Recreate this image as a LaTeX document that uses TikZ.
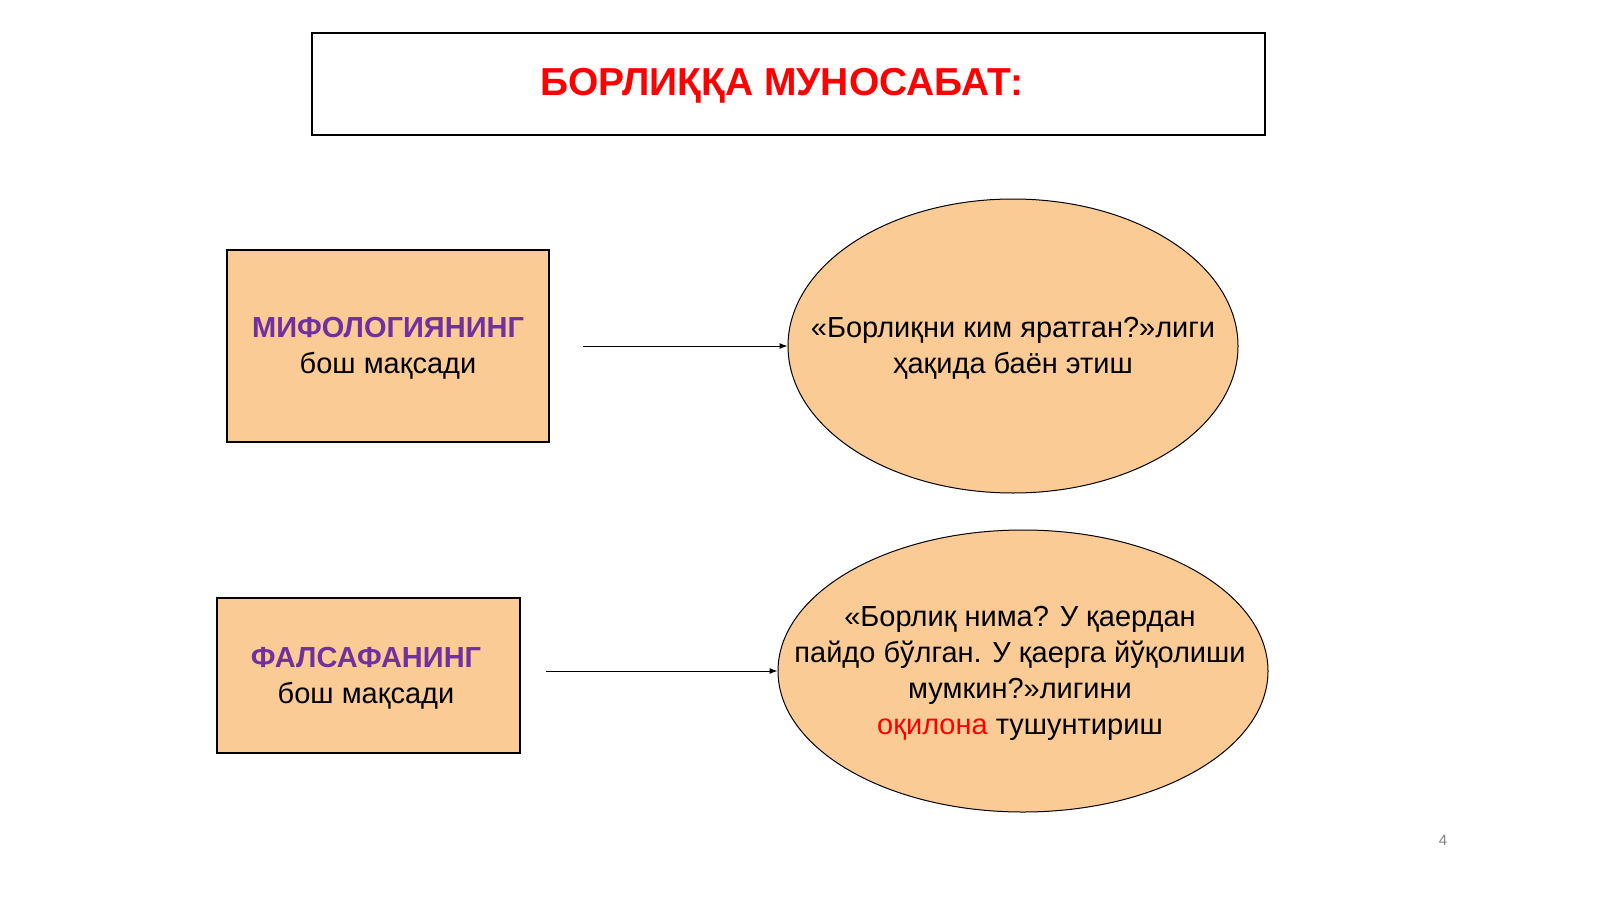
\documentclass[tikz,border=0pt]{standalone}
\usepackage{fontspec}
\setmainfont{Liberation Sans}
\usetikzlibrary{shapes.geometric,arrows.meta}
\definecolor{peach}{RGB}{251,203,150}
\definecolor{purp}{RGB}{112,48,160}
\begin{document}
\begin{tikzpicture}[x=1pt,y=-1pt,
  box/.style={draw=black,line width=1.1pt,fill=peach,inner sep=0},
  ell/.style={ellipse,draw=black,line width=1pt,fill=peach,inner sep=0},
  txt/.style={align=center,font=\fontsize{29}{36}\selectfont},
  arr/.style={-{Latex[length=8pt,width=6pt]},line width=1pt}]
\useasboundingbox (0,0) rectangle (1600,899);
\fill[white] (0,0) rectangle (1600,899);
\node[draw=black,line width=1.4pt,minimum width=953pt,minimum height=102pt] (title) at (788.5,84) {};
\node[text=red,font=\bfseries\fontsize{39}{42}\selectfont] (tt) at (782,86) {БОРЛИҚҚА МУНОСАБАТ:};
\node[box,minimum width=322pt,minimum height=192pt] (b1) at (388,346) {};
\node[txt] (t1) at (388,348) {\textcolor{purp}{\bfseries МИФОЛОГИЯНИНГ}\\бош мақсади};
\node[box,minimum width=303pt,minimum height=155pt] (b2) at (368.5,675.5) {};
\node[txt] (t2) at (366,678) {\textcolor{purp}{\bfseries ФАЛСАФАНИНГ}\\бош мақсади};
\node[ell,minimum width=450pt,minimum height=294pt] (e1) at (1013,346) {};
\node[txt] (te1) at (1013,348) {«Борлиқни ким яратган?»лиги\\ҳақида баён этиш};
\node[ell,minimum width=490pt,minimum height=282pt] (e2) at (1023,671) {};
\node[txt] (te2) at (1020,673) {«Борлиқ нима? У қаердан\\пайдо бўлган. У қаерга йўқолиши\\мумкин?»лигини\\\textcolor{red}{оқилона} тушунтириш};
\coordinate (a1) at (583,346);
\coordinate (a2) at (546,671);
\draw[arr] (a1) -- (e1.west);
\draw[arr] (a2) -- (e2.west);
\node[text=gray,font=\fontsize{15}{16}\selectfont] (pn) at (1443,840) {4};
\end{tikzpicture}
\end{document}
